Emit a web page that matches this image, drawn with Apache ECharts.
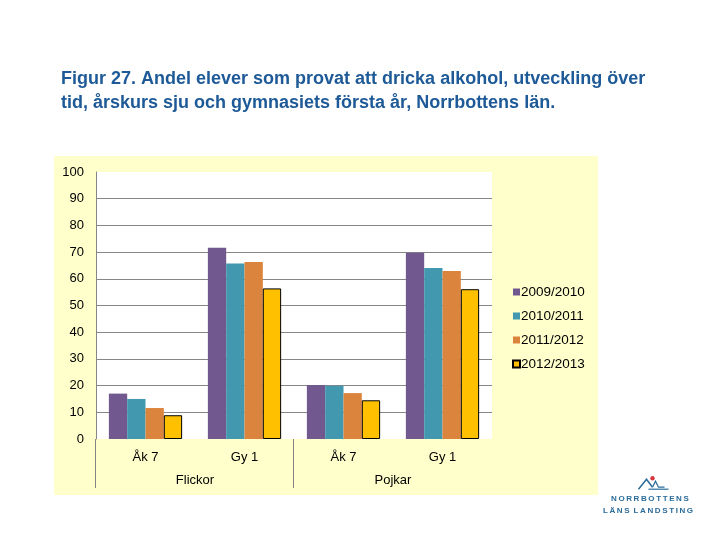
<!DOCTYPE html>
<html>
<head>
<meta charset="utf-8">
<script src="https://cdn.jsdelivr.net/npm/echarts@6/dist/echarts.min.js"></script>
<style>
html, body { margin: 0; padding: 0; background: #fff; }
#chart { width: 720px; height: 540px; }
</style>
</head>
<body>
<div id="chart"></div>
<script>
// data
const groups = ['Flickor', 'Pojkar'];
const levels = ['Åk 7', 'Gy 1'];
const categories = ['Åk 7', 'Gy 1', 'Åk 7', 'Gy 1'];
const seriesNames = ['2009/2010', '2010/2011', '2011/2012', '2012/2013'];
const v2009 = [17, 71.6, 20.2, 69.8];
const v2010 = [15, 65.7, 19.9, 64];
const v2011 = [11.6, 66.3, 17.2, 62.9];
const v2012 = [8.9, 56.4, 14.5, 56.1];
const yTicks = [0, 100, 10]; // min, max, step

const colors = ['#71588F', '#4198AF', '#DB843D', '#FFC000'];
const values = [v2009, v2010, v2011, v2012];
const groupStarts = groups.map((g, i) => [i * levels.length, 0]);

const font = 'Liberation Sans, Arial, sans-serif';
const chart = echarts.init(document.getElementById('chart'));

const barSeries = seriesNames.map((name, i) => ({
    name: name,
    type: 'bar',
    data: values[i],
    barGap: '0%',
    barCategoryGap: '26%',
    itemStyle: i === 3
        ? { color: colors[i], borderColor: '#000', borderWidth: 1 }
        : { color: colors[i] },
    emphasis: { disabled: true }
}));

// group separator lines under the axis
const sepSeries = {
    type: 'custom',
    data: groupStarts,
    clip: false,
    silent: true,
    z: 5,
    renderItem: function (params, api) {
        const p = api.coord([api.value(0), 0]);
        const w = api.size([1, 0])[0];
        const x = Math.round(p[0] - w / 2) - 0.5;
        return {
            type: 'line',
            shape: { x1: x, y1: p[1], x2: x, y2: p[1] + 49 },
            style: { stroke: '#868686', lineWidth: 1 }
        };
    }
};

const option = {
    backgroundColor: '#fff',
    animation: false,
    title: {
        text: 'Figur 27. Andel elever som provat att dricka alkohol, utveckling över\ntid, årskurs sju och gymnasiets första år, Norrbottens län.',
        left: 56,
        top: 62,
        textStyle: {
            fontFamily: font,
            fontSize: 18,
            fontWeight: 'bold',
            color: '#1D5A97',
            lineHeight: 24
        }
    },
    graphic: [
        {
            type: 'rect',
            left: 54, top: 156, z: -10,
            shape: { width: 544, height: 339 },
            style: { fill: '#FFFFCC' }
        },
        {
            type: 'text',
            left: 611, top: 495,
            style: {
                text: 'N\u2009O\u2009R\u2009R\u2009B\u2009O\u2009T\u2009T\u2009E\u2009N\u2009S',
                font: 'bold 8px ' + font,
                fill: '#2A6C9A'
            }
        },
        {
            type: 'text',
            left: 603, top: 507,
            style: {
                text: 'L\u2009Ä\u2009N\u2009S\u2002L\u2009A\u2009N\u2009D\u2009S\u2009T\u2009I\u2009N\u2009G',
                font: 'bold 8px ' + font,
                fill: '#2A6C9A'
            }
        },
        {
            type: 'group',
            left: 636, top: 476,
            children: [
                { type: 'polyline', shape: { points: [[0, 14], [8, 4], [14, 12]] }, style: { stroke: '#2A6C9A', lineWidth: 1.5, fill: null } },
                { type: 'polyline', shape: { points: [[14, 12], [17, 6], [20, 12], [26, 12]] }, style: { stroke: '#2A6C9A', lineWidth: 1.2, fill: null } },
                { type: 'polyline', shape: { points: [[10, 14], [30, 14]] }, style: { stroke: '#2A6C9A', lineWidth: 1.2, fill: null } },
                { type: 'circle', shape: { cx: 14, cy: 3, r: 2.2 }, style: { fill: '#D9363E' } }
            ]
        }
    ],
    legend: {
        orient: 'vertical',
        left: 507,
        top: 280,
        itemWidth: 7,
        itemHeight: 7,
        itemGap: 10,
        icon: 'rect',
        data: seriesNames,
        textStyle: { fontFamily: font, fontSize: 13.5, color: '#000', padding: [0, 0, 0, -4] }
    },
    grid: {
        left: 96, top: 172, right: 228, bottom: 101,
        show: true, backgroundColor: '#fff', borderWidth: 0
    },
    xAxis: [
        {
            type: 'category',
            data: categories,
            axisLine: { show: false },
            axisTick: { show: false },
            axisLabel: { fontFamily: font, fontSize: 13, color: '#000', margin: 12 }
        },
        {
            type: 'category',
            data: groups,
            position: 'bottom',
            offset: 30,
            axisLine: { show: false },
            axisTick: { show: false },
            axisLabel: { fontFamily: font, fontSize: 13, color: '#000', margin: 5 }
        }
    ],
    yAxis: {
        type: 'value',
        min: yTicks[0],
        max: yTicks[1],
        interval: yTicks[2],
        axisLine: { show: true, lineStyle: { color: '#868686' } },
        axisTick: { show: false },
        axisLabel: { fontFamily: font, fontSize: 13, color: '#000', margin: 12 },
        splitLine: {
            show: true,
            showMinLine: false,
            showMaxLine: false,
            lineStyle: { color: '#868686' }
        }
    },
    series: barSeries.concat([sepSeries])
};

chart.setOption(option);
</script>
</body>
</html>
